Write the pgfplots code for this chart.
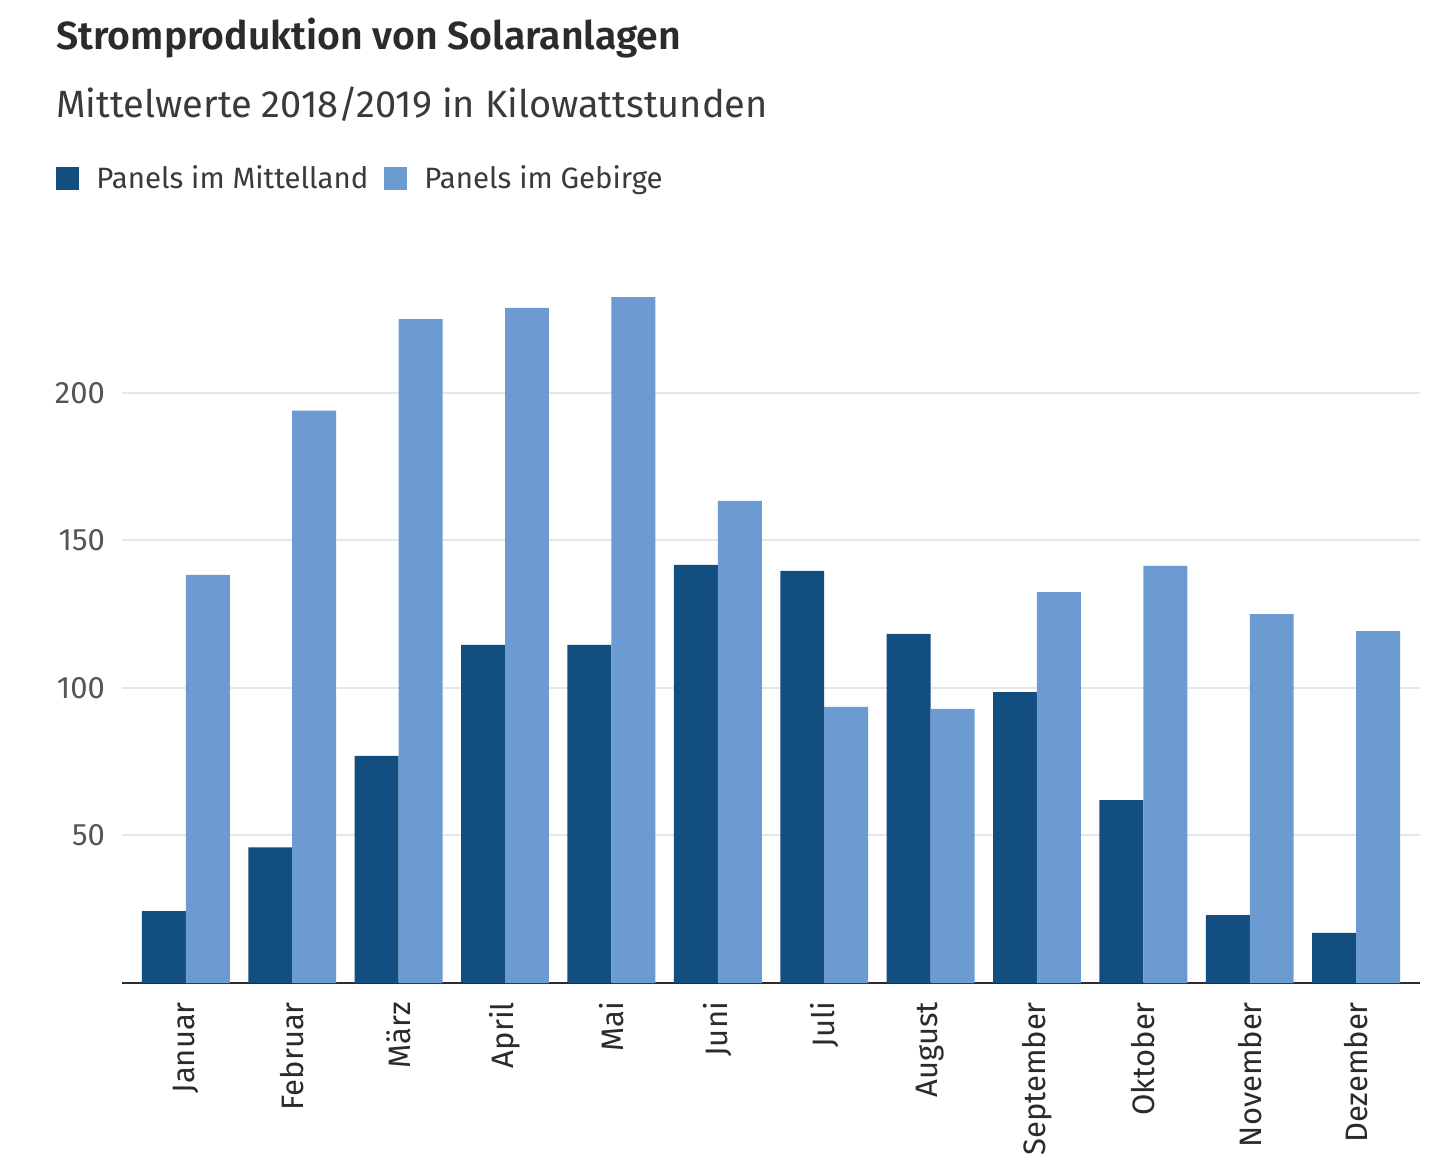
\documentclass[border=0pt]{standalone}
\usepackage{pgfplots}
\pgfplotsset{compat=1.18}
\usepackage{fontspec}
\setmainfont{Fira Sans}
\newfontfamily\titlefont{Fira Sans SemiBold}
\definecolor{darkb}{HTML}{124F80}
\definecolor{lightb}{HTML}{6B9BD1}
\definecolor{titlec}{HTML}{2B2B2B}
\definecolor{subc}{HTML}{3A3A3A}
\definecolor{tickc}{HTML}{555555}
\definecolor{gridc}{HTML}{E6E6E6}
\begin{document}
\begin{tikzpicture}
\path[use as bounding box] (0,0) rectangle (722pt,581pt);
\node[anchor=base west, inner sep=0pt, text=titlec, font=\fontsize{19.6pt}{22pt}\titlefont] at (28pt,556pt) {Stromproduktion von Solaranlagen};
\node[anchor=base west, inner sep=0pt, text=subc, font=\fontsize{19pt}{22pt}\selectfont] at (28pt,522pt) {Mittelwerte 2018/2019 in Kilowattstunden};
\fill[darkb] (28pt,486pt) rectangle (39.5pt,497.5pt);
\node[anchor=base west, inner sep=0pt, text=subc, font=\fontsize{14.7pt}{18pt}\selectfont] at (48pt,486.5pt) {Panels im Mittelland};
\fill[lightb] (192pt,486pt) rectangle (203.5pt,497.5pt);
\node[anchor=base west, inner sep=0pt, text=subc, font=\fontsize{14.7pt}{18pt}\selectfont] at (212pt,486.5pt) {Panels im Gebirge};
\begin{axis}[
  at={(61pt,89.5pt)}, anchor=south west,
  scale only axis, width=649pt, height=361.4pt,
  xmin=-0.6, xmax=11.6, ymin=0, ymax=245,
  ybar=0pt, bar width=0.413,
  xtick=data,
  xticklabels={Januar,Februar,März,April,Mai,Juni,Juli,August,September,Oktober,November,Dezember},
  xticklabel style={rotate=90, anchor=east, text=titlec, font=\fontsize{15.5pt}{18pt}\selectfont},
  ytick={50,100,150,200},
  yticklabel style={text=tickc, font=\fontsize{15.5pt}{18pt}\selectfont},
  /pgf/number format/assume math mode=true,
  ymajorgrids, grid style={gridc, line width=1pt},
  axis x line*=bottom, axis y line*=left,
  y axis line style={draw=none},
  x axis line style={line width=1pt, draw=titlec, -},
  major tick length=0pt,
  xticklabel shift=6pt, yticklabel shift=5pt,
]
\addplot[fill=darkb, draw=none] coordinates {(0,24.4) (1,46) (2,77) (3,114.6) (4,114.6) (5,141.7) (6,139.7) (7,118.3) (8,98.6) (9,62) (10,23) (11,17)};
\addplot[fill=lightb, draw=none] coordinates {(0,138.3) (1,194) (2,225) (3,228.8) (4,232.5) (5,163.4) (6,93.6) (7,92.9) (8,132.5) (9,141.4) (10,125) (11,119.3)};
\end{axis}
\end{tikzpicture}
\end{document}
